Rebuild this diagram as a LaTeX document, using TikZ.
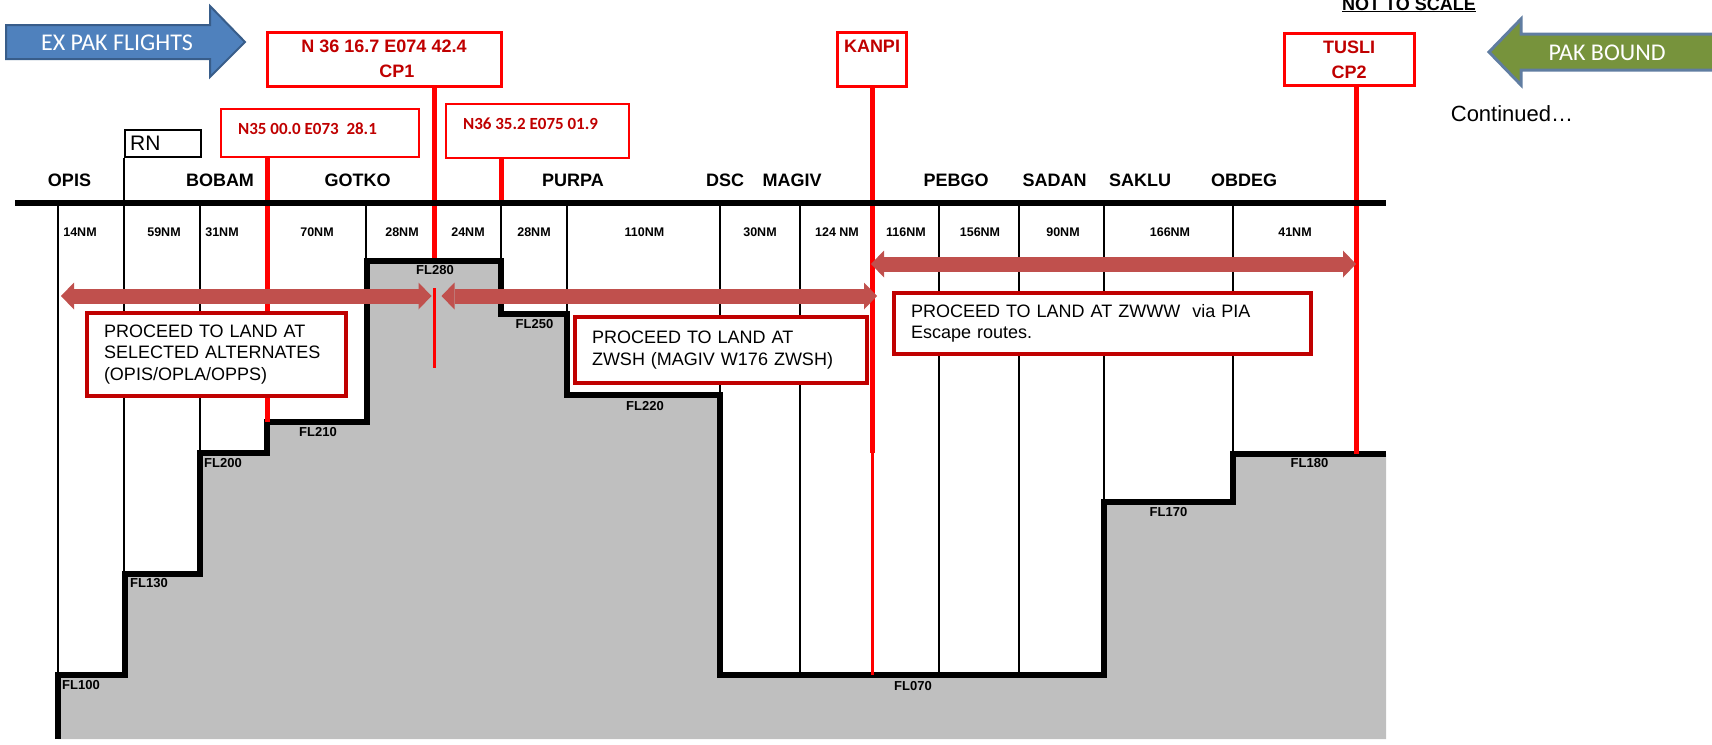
\documentclass[tikz,border=0pt]{standalone}
\usepackage{fontspec}
\setmainfont{Liberation Sans}
\newfontfamily\calibri{Carlito}
\usepackage{tikz}
\usetikzlibrary{calc}
\usetikzlibrary{arrows.meta}

\definecolor{ptred}{RGB}{255,0,0}
\definecolor{txtred}{RGB}{192,0,0}
\definecolor{routered}{RGB}{192,80,77}
\definecolor{exblue}{RGB}{79,129,189}
\definecolor{edgeblue}{RGB}{56,93,138}
\definecolor{pakgreen}{RGB}{119,147,60}
\definecolor{terrain}{RGB}{191,191,191}

\begin{document}
\begin{tikzpicture}[x=1pt, y=-1pt,
    ptbox/.style = {draw = ptred, line width = 3pt, fill = white, inner sep = 0pt},
    ptname/.style = {text = txtred, font = \fontsize{18}{25}\selectfont\bfseries, align = center, inner sep = 0pt},
    wpt/.style = {font = \fontsize{18}{20}\selectfont\bfseries, inner sep = 0pt},
    dist/.style = {font = \fontsize{12.5}{14}\selectfont\bfseries, inner sep = 0pt},
    fl/.style = {font = \fontsize{13}{14}\selectfont\bfseries, inner sep = 0pt},
    redline/.style = {color = ptred, line width = 5pt},
    note/.style = {draw = txtred, line width = 4pt, fill = white, align = left, font = \fontsize{18}{21.5}\selectfont, inner xsep = 17pt, inner ysep = 0pt},
    route/.style = {color = routered, line width = 15pt,
      {Triangle[width = 27pt, length = 13pt, line width = 0pt]}-{Triangle[width = 27pt, length = 13pt, line width = 0pt]}},
    ]
      \useasboundingbox (0,0) rectangle (1712,744);
      % terrain
      \fill[terrain] (58,739) -- (58,675) -- (125,675) -- (125,574) -- (200,574) -- (200,453) -- (267,453) -- (267,422)
        -- (367,422) -- (367,261) -- (501,261) -- (501,314) -- (567,314) -- (567,395) -- (720,395) -- (720,675)
        -- (1104,675) -- (1104,502) -- (1233,502) -- (1233,454) -- (1386,454) -- (1386,739) -- cycle;
      % sector lines
      \foreach \x/\y in {58/675, 200/453, 366/261, 501/261, 567/314, 720/395, 800/675, 939/675, 1019/675, 1104/502, 1233/454}
        \draw[line width = 2.5pt] (\x,203) -- (\x,\y);
      \node[draw, line width = 2pt, minimum width = 76pt, minimum height = 27pt, inner sep = 0pt] (rn) at (163,143.5) {};
      \node[anchor = west, font = \fontsize{21}{23}\selectfont, inner sep = 0pt] (rntxt) at (130,143.5) {RN};
      \draw[line width = 2.5pt] (rn.south west) -- ++(0,417);
      % minimum levels
      \draw[line width = 5.5pt, line join = miter] (58,739) -- (58,675) -- (125,675) -- (125,574) -- (200,574) -- (200,453)
        -- (267,453) -- (267,422) -- (367,422) -- (367,261) -- (501,261) -- (501,314) -- (567,314) -- (567,395)
        -- (720,395) -- (720,675) -- (1104,675) -- (1104,502) -- (1233,502) -- (1233,454) -- (1386,454);
      % points of the route
      \node[ptbox, minimum width = 234pt, minimum height = 54pt] (cp1) at (384,59) {};
      \node[ptbox, line width = 2pt, minimum width = 198pt, minimum height = 48pt] (n35) at (320,133) {};
      \node[ptbox, line width = 2pt, minimum width = 183pt, minimum height = 54pt] (n36) at (537.5,131) {};
      \node[ptbox, minimum width = 69pt, minimum height = 54pt] (kanpi) at (871.5,59) {};
      \node[ptbox, minimum width = 130pt, minimum height = 52pt] (tusli) at (1349,59) {};
      \coordinate (cp1end) at (434,258);
      \coordinate (n35end) at (267,422);
      \coordinate (n36end) at (501,203);
      \coordinate (kanpimid) at (872,453);
      \coordinate (kanpiend) at (872,675);
      \coordinate (tusliend) at (1356,454);
      \draw[redline] (cp1end |- cp1.south) -- (cp1end);
      \draw[redline] (n35end |- n35.south) -- (n35end);
      \draw[redline] (n36end |- n36.south) -- (n36end);
      \draw[redline] (kanpimid |- kanpi.south) -- (kanpimid);
      \draw[color = ptred, line width = 3pt] (kanpimid) -- (kanpiend);
      \draw[redline] (tusliend |- tusli.south) -- (tusliend);
      \draw[color = ptred, line width = 3pt] (434,288) -- (434,368);
      \node[ptname] (cp1txt) at (384,58.5) {N 36 16.7 E074 42.4\\\hspace*{26pt}CP1};
      \node[ptname, font = \calibri\fontsize{17}{20}\selectfont\bfseries] (n35txt) at (307.5,129) {N35 00.0 E073\ \ 28.1};
      \node[ptname, font = \calibri\fontsize{17}{20}\selectfont\bfseries] (n36txt) at (530.5,124) {N36 35.2 E075 01.9};
      \node[ptname] (kanpitxt) at (872,46) {KANPI};
      \node[ptname] (uslitxt) at (1349,59.5) {TUSLI\\CP2};
      % airway
      \draw[line width = 6pt] (15,203) -- (1386,203);
      \foreach \x/\name in {69.5/OPIS, 220/BOBAM, 357.5/GOTKO, 573/PURPA, 725/DSC, 792/MAGIV, 956/PEBGO, 1054.5/SADAN, 1140/SAKLU, 1244/OBDEG}
        \node[wpt] (\name) at (\x,180) {\name};
      \foreach \x/\d [count = \i] in {80/14NM, 164/59NM, 222/31NM, 317/70NM, 402/28NM, 468/24NM, 534/28NM, 644.5/110NM,
          760/30NM, 837/124 NM, 906/116NM, 980/156NM, 1063/90NM, 1170/166NM, 1295/41NM}
        \node[dist] (dist\i) at (\x,232) {\d};
      \foreach \x/\y/\f in {435/270/FL280, 534.5/324/FL250, 645/405.7/FL220, 318/432/FL210, 223/463/FL200,
          149/583/FL130, 81/685/FL100, 913/686/FL070, 1168.5/512/FL170, 1309.5/463/FL180}
        \node[fl] (\f) at (\x,\y) {\f};
      % escape notes
      \node[note, text width = 225pt, minimum height = 83pt] (alt) at (216.5,354.5) {PROCEED TO LAND AT\\SELECTED ALTERNATES\\(OPIS/OPLA/OPPS)};
      \node[note, text width = 258pt, minimum height = 66pt] (zwsh) at (721,350) {PROCEED TO LAND AT\\ZWSH (MAGIV W176 ZWSH)};
      \node[note, text width = 383pt, minimum height = 61pt] (zwww) at (1102.5,323.5) {PROCEED TO LAND AT ZWWW\ \ via PIA\\Escape routes.};
      % escape arrows
      \coordinate (r1a) at (61,296);
      \coordinate (r1b) at (431.5,296);
      \coordinate (r2a) at (441.5,296);
      \coordinate (r2b) at (877,296);
      \coordinate (r3a) at (871,264);
      \coordinate (r3b) at (1356,264);
      \draw[route] (r1a) -- (r1b);
      \draw[route] (r2a) -- (r2b);
      \draw[route] (r3a) -- (r3b);
      % direction of flights
      \draw[fill = exblue, draw = edgeblue, line width = 2pt, line join = miter] (6,25) -- (210,25) -- (210,6) -- (245,42) -- (210,77) -- (210,59) -- (6,59) -- cycle;
      \node[text = white, font = \calibri\fontsize{24}{26}\selectfont, inner sep = 0pt] (expak) at (117,43) {EX PAK FLIGHTS};
      \draw[fill = pakgreen, draw = edgeblue!80, line width = 3pt, line join = miter] (1489,52) -- (1521,19) -- (1521,34) -- (1720,34) -- (1720,70) -- (1521,70) -- (1521,85) -- cycle;
      \node[text = white, font = \calibri\fontsize{24}{26}\selectfont, inner sep = 0pt] (pakbound) at (1607,53) {PAK BOUND};
      \node[font = \fontsize{22}{24}\selectfont, inner sep = 0pt] (cont) at (1512,114) {Continued…};
      \node[anchor = base, font = \fontsize{18}{20}\selectfont\bfseries, inner sep = 0pt] (nts) at (1409,10) {\underline{NOT TO SCALE}};
    \end{tikzpicture}
\end{document}
